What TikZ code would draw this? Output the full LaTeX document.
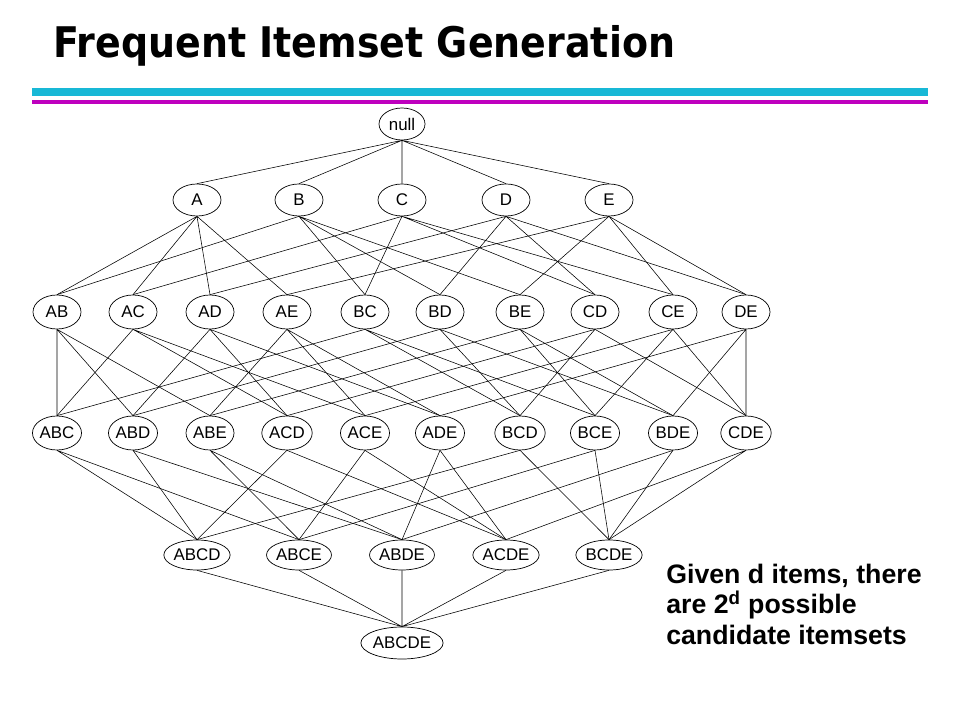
\documentclass[tikz,border=0pt]{standalone}
\usepackage{fontspec}
\setmainfont{Liberation Sans}
\newfontfamily\titlefont{DejaVu Sans}
\usetikzlibrary{positioning,shapes.geometric}

\definecolor{barcyan}{RGB}{24,184,214}
\definecolor{barmagenta}{RGB}{190,0,190}

\begin{document}
\begin{tikzpicture}[x=0.025cm,y=-0.025cm,
        itemset/.style={draw, ellipse, inner sep=0pt, line width=0.5pt,
                        minimum width=48*0.025cm, minimum height=34*0.025cm,
                        font=\fontsize{12}{14}\selectfont},
        wide/.style={itemset, minimum width=64*0.025cm, minimum height=30*0.025cm},
        edge/.style={line width=0.4pt}]

        \useasboundingbox (0,0) rectangle (960,720);

        % title and bars
        \node[anchor=base west, inner sep=0pt, xscale=0.9, font=\titlefont\bfseries\fontsize{30}{34}\selectfont] (title) at (53,58) {Frequent Itemset Generation};
        \fill[barcyan] (32,88) rectangle (928,96);
        \fill[barmagenta] (32,100) rectangle (928,104);

        % level 0
        \node[itemset, minimum width=46*0.025cm, minimum height=32*0.025cm] (null) at (402,124) {null};

        % level 1
        \node[itemset, minimum height=32*0.025cm] (A) at (197,200) {A};
        \node[itemset, minimum height=32*0.025cm] (B) at (299,200) {B};
        \node[itemset, minimum height=32*0.025cm] (C) at (402,200) {C};
        \node[itemset, minimum height=32*0.025cm] (D) at (506,200) {D};
        \node[itemset, minimum height=32*0.025cm] (E) at (609,200) {E};

        % level 2
        \node[itemset] (AB) at (57,312) {AB};
        \node[itemset] (AC) at (133,312) {AC};
        \node[itemset] (AD) at (210,312) {AD};
        \node[itemset] (AE) at (287,312) {AE};
        \node[itemset] (BC) at (365,312) {BC};
        \node[itemset] (BD) at (440,312) {BD};
        \node[itemset] (BE) at (520,312) {BE};
        \node[itemset] (CD) at (595,312) {CD};
        \node[itemset] (CE) at (673,312) {CE};
        \node[itemset] (DE) at (746,312) {DE};

        % level 3
        \node[itemset] (ABC) at (57,433) {ABC};
        \node[itemset] (ABD) at (133,433) {ABD};
        \node[itemset] (ABE) at (210,433) {ABE};
        \node[itemset] (ACD) at (287,433) {ACD};
        \node[itemset] (ACE) at (365,433) {ACE};
        \node[itemset] (ADE) at (440,433) {ADE};
        \node[itemset] (BCD) at (520,433) {BCD};
        \node[itemset] (BCE) at (595,433) {BCE};
        \node[itemset] (BDE) at (673,433) {BDE};
        \node[itemset] (CDE) at (746,433) {CDE};

        % level 4
        \node[wide] (ABCD) at (197,555) {ABCD};
        \node[wide] (ABCE) at (299,555) {ABCE};
        \node[wide] (ABDE) at (402,555) {ABDE};
        \node[wide] (ACDE) at (506,555) {ACDE};
        \node[wide] (BCDE) at (609,555) {BCDE};

        % level 5
        \node[wide, minimum height=32*0.025cm] (ABCDE) at (402,643) {ABCDE};

        % edges null -> 1
        \draw[edge] (null.south) -- (A.north) (null.south) -- (B.north) (null.south) -- (C.north) (null.south) -- (D.north) (null.south) -- (E.north);

        % edges 1 -> 2
        \draw[edge] (A.south) -- (AB.north) (A.south) -- (AC.north) (A.south) -- (AD.north) (A.south) -- (AE.north);
        \draw[edge] (B.south) -- (AB.north) (B.south) -- (BC.north) (B.south) -- (BD.north) (B.south) -- (BE.north);
        \draw[edge] (C.south) -- (AC.north) (C.south) -- (BC.north) (C.south) -- (CD.north) (C.south) -- (CE.north);
        \draw[edge] (D.south) -- (AD.north) (D.south) -- (BD.north) (D.south) -- (CD.north) (D.south) -- (DE.north);
        \draw[edge] (E.south) -- (AE.north) (E.south) -- (BE.north) (E.south) -- (CE.north) (E.south) -- (DE.north);

        % edges 2 -> 3
        \draw[edge] (AB.south) -- (ABC.north) (AB.south) -- (ABD.north) (AB.south) -- (ABE.north);
        \draw[edge] (AC.south) -- (ABC.north) (AC.south) -- (ACD.north) (AC.south) -- (ACE.north);
        \draw[edge] (AD.south) -- (ABD.north) (AD.south) -- (ACD.north) (AD.south) -- (ADE.north);
        \draw[edge] (AE.south) -- (ABE.north) (AE.south) -- (ACE.north) (AE.south) -- (ADE.north);
        \draw[edge] (BC.south) -- (ABC.north) (BC.south) -- (BCD.north) (BC.south) -- (BCE.north);
        \draw[edge] (BD.south) -- (ABD.north) (BD.south) -- (BCD.north) (BD.south) -- (BDE.north);
        \draw[edge] (BE.south) -- (ABE.north) (BE.south) -- (BCE.north) (BE.south) -- (BDE.north);
        \draw[edge] (CD.south) -- (ACD.north) (CD.south) -- (BCD.north) (CD.south) -- (CDE.north);
        \draw[edge] (CE.south) -- (ACE.north) (CE.south) -- (BCE.north) (CE.south) -- (CDE.north);
        \draw[edge] (DE.south) -- (ADE.north) (DE.south) -- (BDE.north) (DE.south) -- (CDE.north);

        % edges 3 -> 4
        \draw[edge] (ABC.south) -- (ABCD.north) (ABC.south) -- (ABCE.north);
        \draw[edge] (ABD.south) -- (ABCD.north) (ABD.south) -- (ABDE.north);
        \draw[edge] (ABE.south) -- (ABCE.north) (ABE.south) -- (ABDE.north);
        \draw[edge] (ACD.south) -- (ABCD.north) (ACD.south) -- (ACDE.north);
        \draw[edge] (ACE.south) -- (ABCE.north) (ACE.south) -- (ACDE.north);
        \draw[edge] (ADE.south) -- (ABDE.north) (ADE.south) -- (ACDE.north);
        \draw[edge] (BCD.south) -- (ABCD.north) (BCD.south) -- (BCDE.north);
        \draw[edge] (BCE.south) -- (ABCE.north) (BCE.south) -- (BCDE.north);
        \draw[edge] (BDE.south) -- (ABDE.north) (BDE.south) -- (BCDE.north);
        \draw[edge] (CDE.south) -- (ACDE.north) (CDE.south) -- (BCDE.north);

        % edges 4 -> 5
        \draw[edge] (ABCD.south) -- (ABCDE.north) (ABCE.south) -- (ABCDE.north) (ABDE.south) -- (ABCDE.north) (ACDE.south) -- (ABCDE.north) (BCDE.south) -- (ABCDE.north);

        % side note
        \node[anchor=base west, inner sep=0pt, align=left, font=\bfseries\fontsize{19}{21.6}\selectfont] (note) at (666,644) {Given d items, there\\are 2\textsuperscript{d} possible\\candidate itemsets};

\end{tikzpicture}
\end{document}
